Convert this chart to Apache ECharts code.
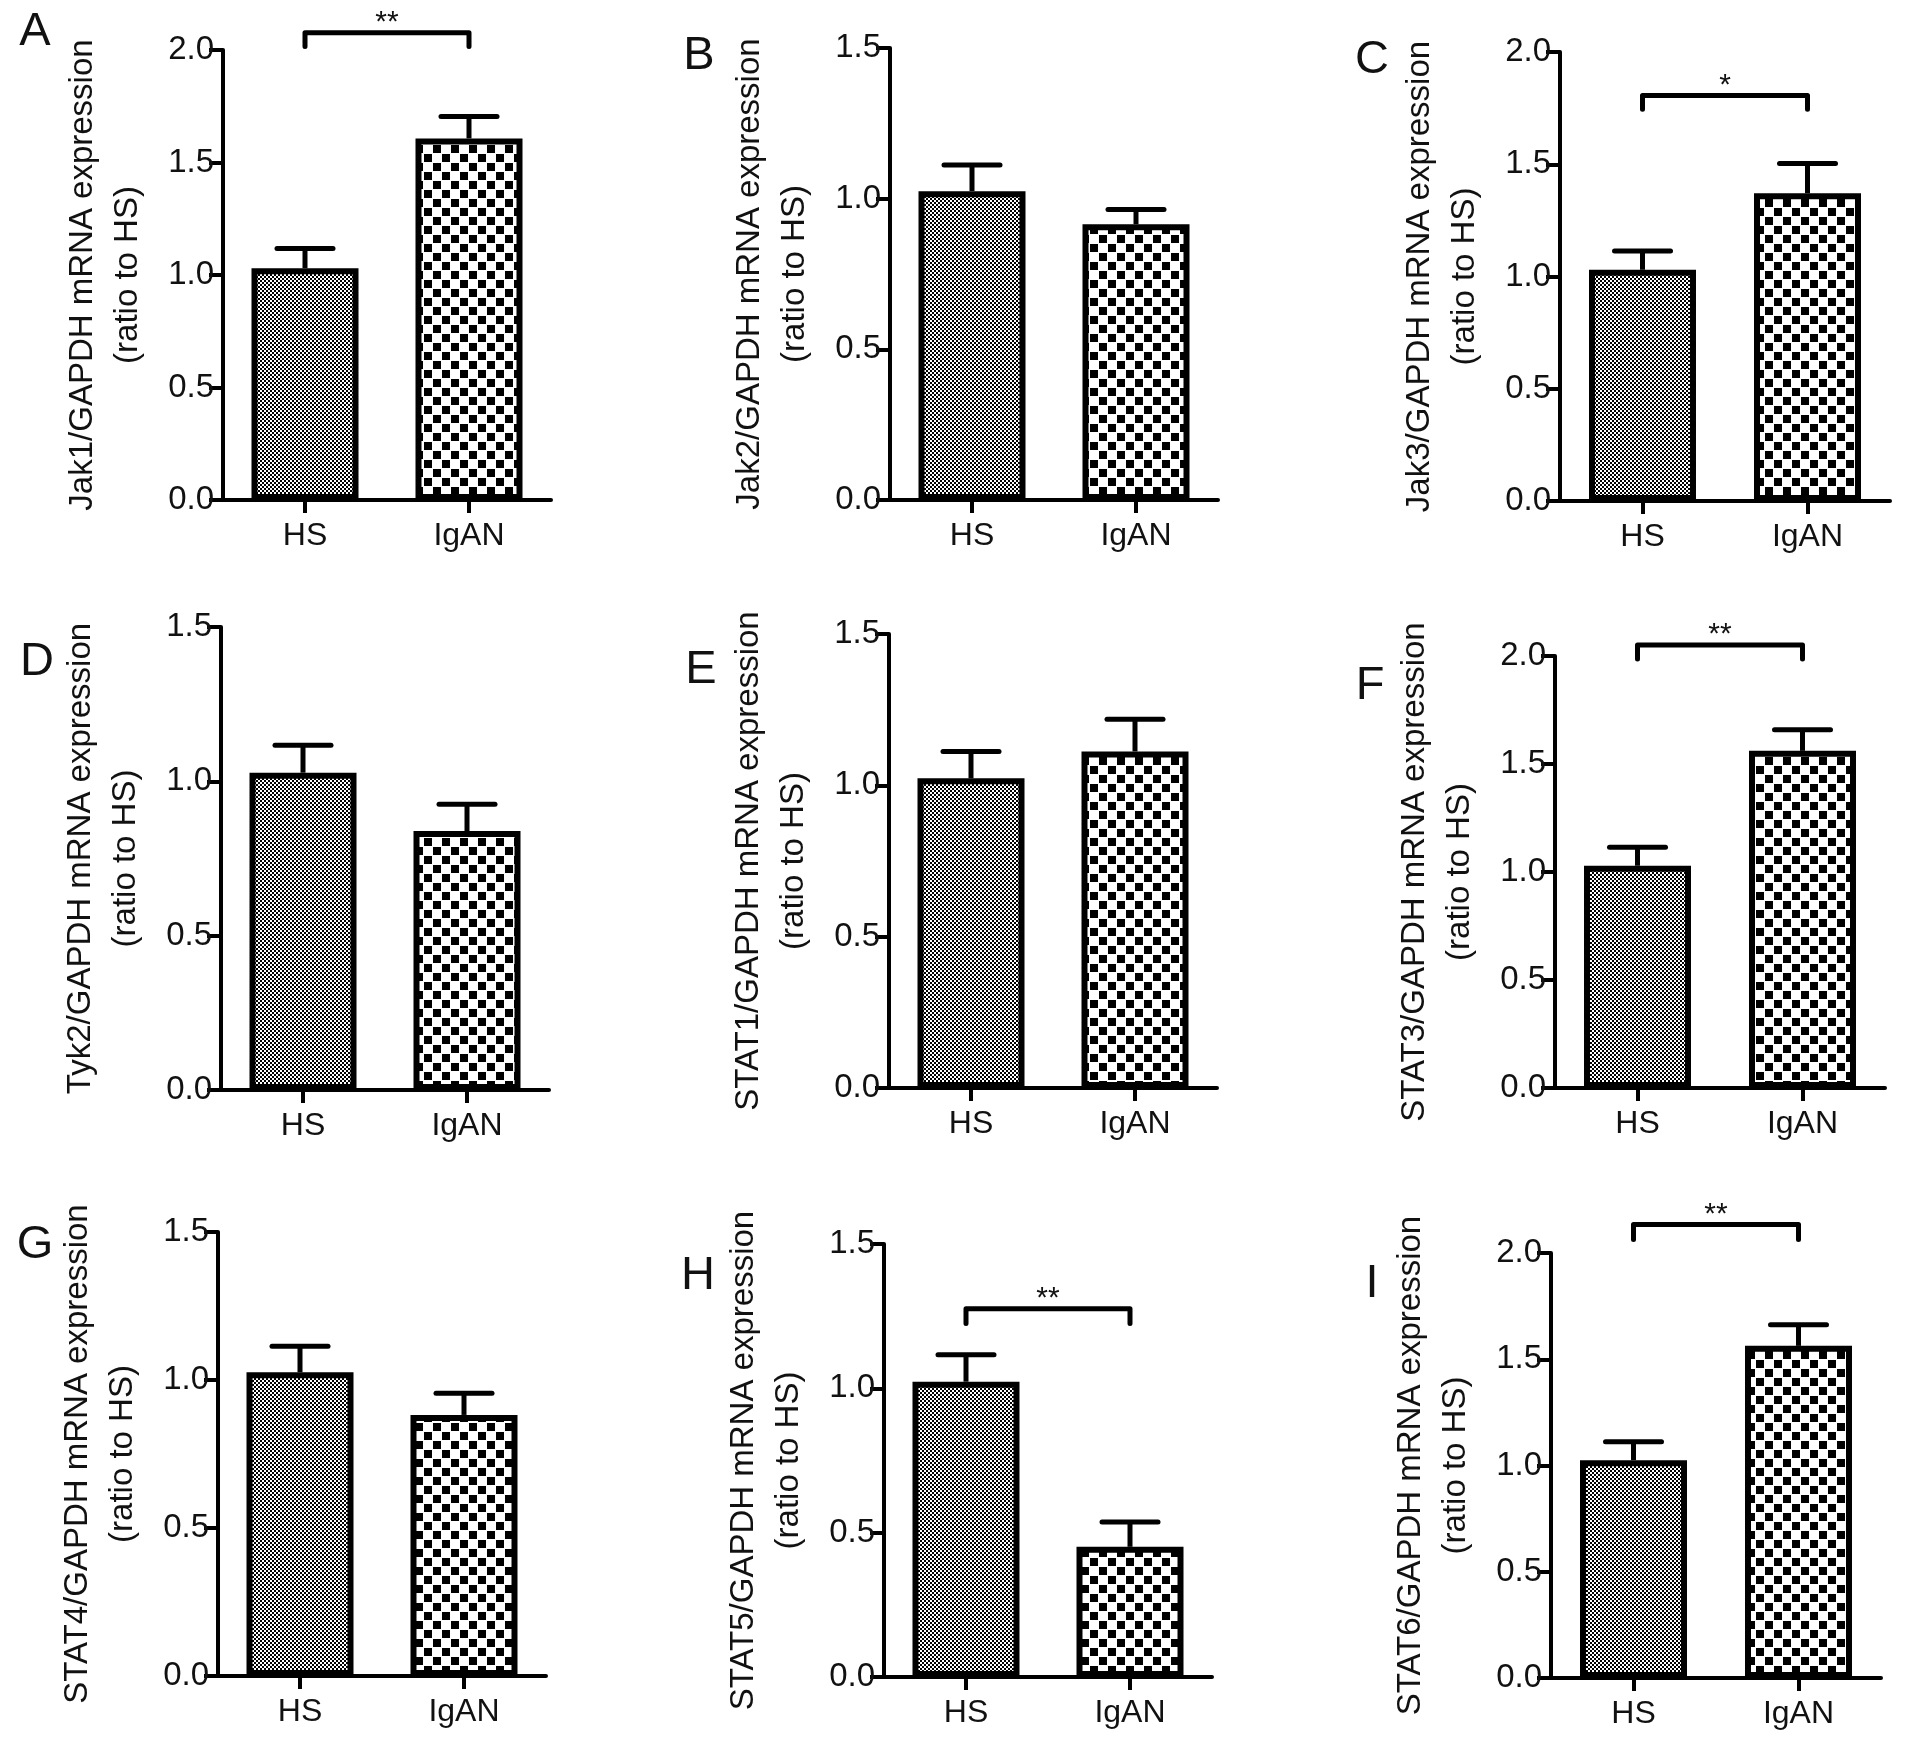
<!DOCTYPE html>
<html>
<head>
<meta charset="utf-8">
<script src="https://cdn.jsdelivr.net/npm/echarts@6/dist/echarts.min.js"></script>
<style>
html,body{margin:0;padding:0;background:#fff;}
#chart{width:1913px;height:1746px;}
</style>
</head>
<body>
<div id="chart"></div>
<script>
// ---------------- data ----------------
const categories = ['HS', 'IgAN'];
const panelLetters = ['A', 'B', 'C', 'D', 'E', 'F', 'G', 'H', 'I'];
const genes = ['Jak1', 'Jak2', 'Jak3', 'Tyk2', 'STAT1', 'STAT3', 'STAT4', 'STAT5', 'STAT6'];
const yAxisMax = [2.0, 1.5, 2.0, 1.5, 1.5, 2.0, 1.5, 1.5, 2.0];
const yAxisInterval = 0.5;
const hsMean = [1.03, 1.025, 1.03, 1.028, 1.023, 1.029, 1.026, 1.023, 1.025];
const hsUpper = [1.118, 1.112, 1.114, 1.117, 1.112, 1.115, 1.114, 1.116, 1.112];   // mean + SEM
const iganMean = [1.607, 0.915, 1.371, 0.839, 1.112, 1.561, 0.882, 0.451, 1.563];
const iganUpper = [1.705, 0.964, 1.503, 0.926, 1.218, 1.658, 0.955, 0.537, 1.662]; // mean + SEM
const sigLabel = ['**', '', '*', '', '', '**', '', '**', '**'];
const sigTop = [2.077, null, 1.806, null, null, 2.051, null, 1.276, 2.134];
const sigEnd = [2.016, null, 1.745, null, null, 1.986, null, 1.225, 2.064];

// ---------------- layout (pixels) ----------------
const layout = [
  {left: 223, top: 50, width: 328, height: 450},
  {left: 890, top: 48, width: 328, height: 452},
  {left: 1560, top: 52, width: 330, height: 449},
  {left: 221, top: 627, width: 328, height: 463},
  {left: 889, top: 634, width: 328, height: 454},
  {left: 1555, top: 656, width: 330, height: 432},
  {left: 218, top: 1232, width: 328, height: 444},
  {left: 884, top: 1244, width: 328, height: 433},
  {left: 1551, top: 1253, width: 330, height: 425}
];
const letterPos = [
  [35, 32], [699, 56], [1372, 60],
  [37, 662], [701, 670], [1370, 686],
  [35, 1245], [698, 1276], [1372, 1284]
];

const FONT = 'Liberation Sans, Arial, Helvetica, sans-serif';
const TXT = '#111';

function makeCanvas(size, draw) {
  const c = document.createElement('canvas');
  c.width = size; c.height = size;
  const ctx = c.getContext('2d');
  ctx.fillStyle = '#fff';
  ctx.fillRect(0, 0, size, size);
  ctx.fillStyle = '#000';
  draw(ctx);
  return c;
}
// fine dotted pattern for HS
const hsPattern = makeCanvas(4, ctx => {
  ctx.fillRect(0, 0, 2, 2);
  ctx.fillRect(2, 2, 2, 2);
});
// coarse checkerboard for IgAN
const iganPattern = makeCanvas(18, ctx => {
  ctx.fillRect(1, 1, 8, 8);
  ctx.fillRect(10, 10, 8, 8);
});

const grids = [], xAxes = [], yAxes = [], series = [], graphics = [];

for (let i = 0; i < 9; i++) {
  const L = layout[i];
  grids.push({left: L.left, top: L.top, width: L.width, height: L.height, containLabel: false});
  xAxes.push({
    type: 'category', gridIndex: i, data: categories,
    axisLine: {show: true, lineStyle: {color: '#000', width: 4}},
    axisTick: {show: true, alignWithLabel: true, length: 13, lineStyle: {color: '#000', width: 4}},
    axisLabel: {fontSize: 32, color: TXT, fontFamily: FONT, margin: 20},
    splitLine: {show: false}
  });
  yAxes.push({
    type: 'value', gridIndex: i, min: 0, max: yAxisMax[i], interval: yAxisInterval,
    axisLine: {show: true, lineStyle: {color: '#000', width: 4}},
    axisTick: {show: true, length: 14, lineStyle: {color: '#000', width: 4}},
    axisLabel: {fontSize: 33, color: TXT, fontFamily: FONT, margin: 9,
      formatter: v => v.toFixed(1)},
    splitLine: {show: false},
    name: genes[i] + '/GAPDH mRNA expression\n(ratio to HS)',
    nameLocation: 'middle', nameRotate: 90, nameGap: 73,
    nameTextStyle: {fontSize: 33, lineHeight: 45, color: TXT, fontFamily: FONT, align: 'center'}
  });
  series.push({
    type: 'bar', xAxisIndex: i, yAxisIndex: i, barWidth: 107,
    silent: true, animation: false,
    itemStyle: {borderColor: '#000', borderWidth: 6},
    data: [
      {value: hsMean[i], itemStyle: {color: {image: hsPattern, repeat: 'repeat'}}},
      {value: iganMean[i], itemStyle: {color: {image: iganPattern, repeat: 'repeat'}}}
    ],
    z: 2
  });
  series.push({
    type: 'custom', xAxisIndex: i, yAxisIndex: i, silent: true, animation: false, z: 1,
    data: [[0, hsMean[i], hsUpper[i]], [1, iganMean[i], iganUpper[i]]],
    encode: {x: 0, y: [1, 2]},
    renderItem: (params, api) => {
      const p0 = api.coord([api.value(0), api.value(1)]);
      const p1 = api.coord([api.value(0), api.value(2)]);
      return {
        type: 'group', children: [
          {type: 'line', shape: {x1: p0[0], y1: p0[1], x2: p1[0], y2: p1[1]},
            style: {stroke: '#000', lineWidth: 5}},
          {type: 'line', shape: {x1: p1[0] - 28, y1: p1[1], x2: p1[0] + 28, y2: p1[1]},
            style: {stroke: '#000', lineWidth: 5, lineCap: 'round'}}
        ]
      };
    }
  });
  if (sigLabel[i]) {
    series.push({
      type: 'custom', xAxisIndex: i, yAxisIndex: i, silent: true, animation: false, clip: false,
      data: [[0, 1, sigTop[i], sigEnd[i]]],
      encode: {x: [0, 1], y: [2, 3]},
      renderItem: (params, api) => {
        const a = api.coord([api.value(0), api.value(2)]);
        const b = api.coord([api.value(1), api.value(2)]);
        const e = api.coord([api.value(0), api.value(3)]);
        return {
          type: 'group', children: [
            {type: 'polyline', shape: {points: [[a[0], e[1]], [a[0], a[1]], [b[0], b[1]], [b[0], e[1]]]},
              style: {stroke: '#000', lineWidth: 5, fill: null, lineJoin: 'round', lineCap: 'round'}},
            {type: 'text', style: {text: sigLabel[i], x: (a[0] + b[0]) / 2, y: a[1] - 10,
              align: 'center', verticalAlign: 'middle', fontSize: 30, fontFamily: FONT, fill: TXT}}
          ]
        };
      }
    });
  }
  graphics.push({
    type: 'text', x: letterPos[i][0], y: letterPos[i][1], silent: true,
    style: {text: panelLetters[i], fontSize: 47, fontFamily: FONT, fill: TXT,
      align: 'center', verticalAlign: 'middle'}
  });
}

const chart = echarts.init(document.getElementById('chart'), null, {renderer: 'canvas'});
chart.setOption({
  animation: false,
  backgroundColor: '#fff',
  grid: grids, xAxis: xAxes, yAxis: yAxes, series: series, graphic: graphics
});
</script>
</body>
</html>
